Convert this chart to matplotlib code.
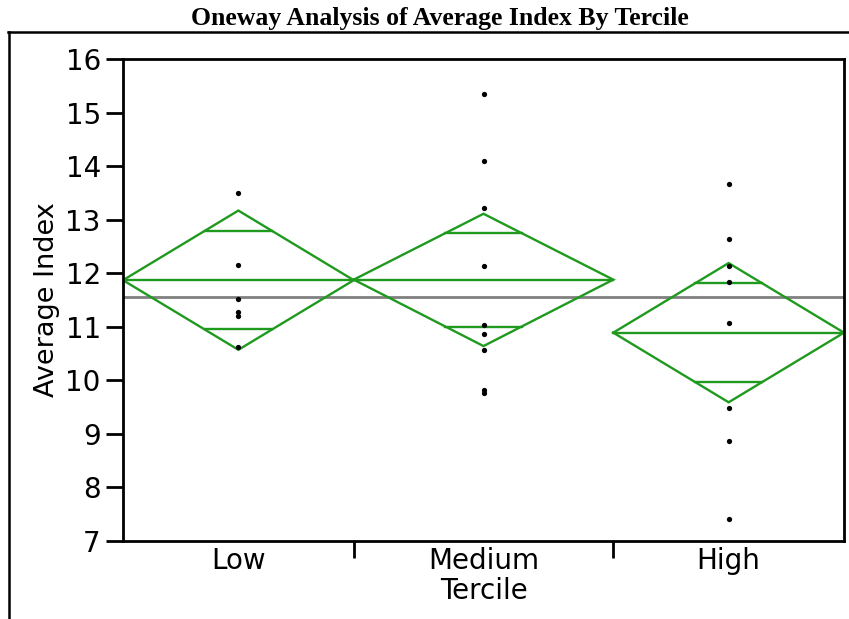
import matplotlib
matplotlib.use("Agg")
import matplotlib.pyplot as plt
from matplotlib.lines import Line2D
import numpy as np

# ---- data ----
categories = ["Low", "Medium", "High"]
counts = [8, 9, 8]                       # category widths (proportional to n)
means = [11.87, 11.88, 10.89]
ci_upper = [13.17, 13.11, 12.19]
ci_lower = [10.57, 10.64, 9.59]
grand_mean = 11.55
low_points = [13.49, 12.15, 11.51, 11.27, 11.21, 10.62]
medium_points = [15.35, 14.10, 13.22, 12.13, 11.04, 10.87, 10.57, 9.82, 9.77]
high_points = [13.66, 12.63, 12.13, 11.83, 11.07, 9.48, 8.87, 7.41]
points = [low_points, medium_points, high_points]
y_ticks = [7, 8, 9, 10, 11, 12, 13, 14, 15, 16]

GREEN = "#1f9a1f"

fig = plt.figure(figsize=(8.49, 6.19), dpi=100)
W, H = 849, 619
ax = fig.add_axes([123 / W, 1 - 541 / H, (844 - 123) / W, (541 - 59) / H])

edges = np.concatenate([[0], np.cumsum(counts)])
centers = (edges[:-1] + edges[1:]) / 2.0

# grand mean line
ax.axhline(grand_mean, color="#808080", lw=2.0, zorder=1)

for i in range(len(categories)):
    L, R, C = edges[i], edges[i + 1], centers[i]
    m, up, lo = means[i], ci_upper[i], ci_lower[i]
    ax.plot([L, C, R, C, L], [m, up, m, lo, m], color=GREEN, lw=1.7, zorder=2,
            solid_joinstyle="miter")
    ax.plot([L, R], [m, m], color=GREEN, lw=1.7, zorder=2)
    half = (R - L) / 2.0
    for sgn, ext in ((1, up), (-1, lo)):
        d = abs(ext - m)
        h = m + sgn * d / np.sqrt(2)
        hw = half * (1 - 1 / np.sqrt(2))
        ax.plot([C - hw, C + hw], [h, h], color=GREEN, lw=1.7, zorder=2)
    ax.plot([C] * len(points[i]), points[i], "o", color="black", ms=3.8,
            mew=0, zorder=3)

ax.set_xlim(0, edges[-1])
ax.set_ylim(7, 16)
ax.set_yticks(y_ticks)
ax.set_yticklabels([str(v) for v in y_ticks], fontsize=20)
ax.tick_params(axis="y", length=12, width=2, pad=4)

# boundary ticks (no labels) and centered category labels (no tick marks)
ax.set_xticks(edges[1:-1])
ax.set_xticklabels([])
ax.tick_params(axis="x", length=12, width=2)
ax.set_xticks(centers, minor=True)
ax.set_xticklabels(categories, minor=True, fontsize=20)
ax.tick_params(axis="x", which="minor", length=0, pad=4)

for s in ax.spines.values():
    s.set_linewidth(2)
    s.set_color("black")

ax.set_ylabel("Average Index", fontsize=19.5)
ax.yaxis.set_label_coords(-0.088, 0.5)
ax.set_xlabel("Tercile", fontsize=20, labelpad=2)

# report title and frame
fig.text(440 / W, 1 - 18 / H, "Oneway Analysis of Average Index By Tercile",
         ha="center", va="center", fontsize=18.5, fontweight="bold",
         family="Liberation Serif")
fig.add_artist(Line2D([8 / W, 1.0], [1 - 32 / H, 1 - 32 / H],
                      transform=fig.transFigure, color="black", lw=1.8))
fig.add_artist(Line2D([9 / W, 9 / W], [1 - 32 / H, 0.0],
                      transform=fig.transFigure, color="black", lw=1.8))

fig.savefig("out.png", dpi=100)
